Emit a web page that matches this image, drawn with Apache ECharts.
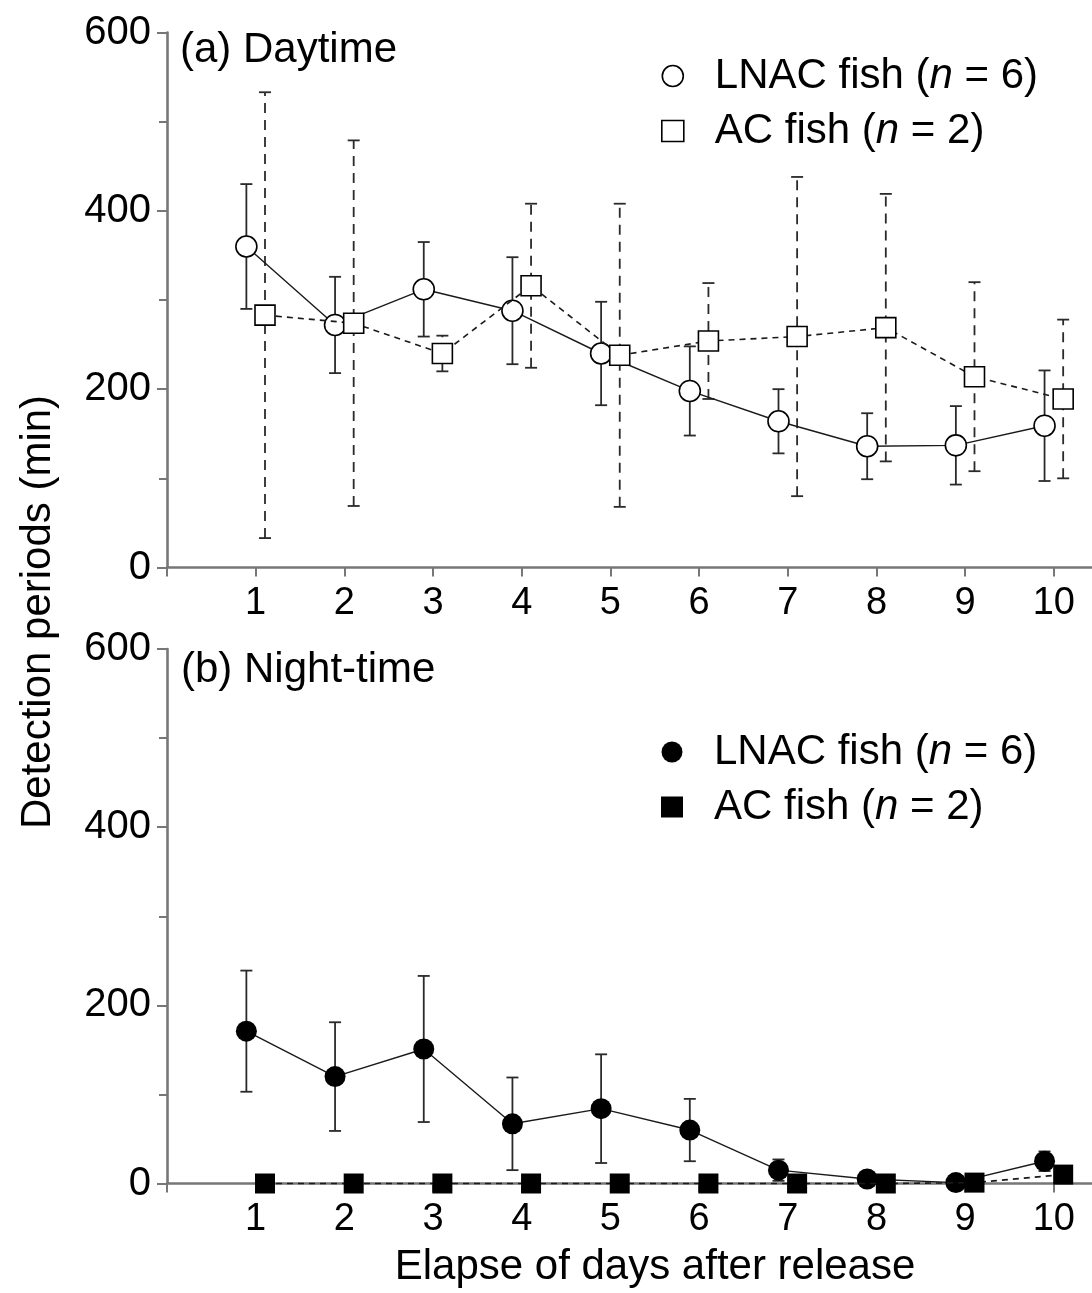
<!DOCTYPE html>
<html>
<head>
<meta charset="utf-8">
<title>Detection periods</title>
<script src="https://cdn.jsdelivr.net/npm/echarts@6/dist/echarts.min.js"></script>
<style>
  html, body { margin: 0; padding: 0; background: #fff; }
  #chart { width: 1092px; height: 1293px; }
</style>
</head>
<body>
<div id="chart"></div>
<script>
// days after release
const days = [1, 2, 3, 4, 5, 6, 7, 8, 9, 10]
const xTickValues = [0, 1, 2, 3, 4, 5, 6, 7, 8, 9, 10]
const xLabelValues = [1, 2, 3, 4, 5, 6, 7, 8, 9, 10]

// (a) daytime: mean and error (min)
const lnacDay = [360, 272, 312, 288, 240, 198, 164, 136, 137, 159]
const lnacDayErr = [70, 54, 53, 60, 58, 50, 36, 37, 44, 62]
const acDay = [283, 274, 240, 316, 238, 254, 259, 269, 214, 189]
const acDayErr = [250, 205, 20, 92, 170, 65, 179, 150, 106, 89]

// (b) night-time
const lnacNight = [171, 120, 151, 67, 84, 60, 15, 5, 1, 25]
const lnacNightErr = [68, 61, 82, 52, 61, 35, 12, 3, 1, 11]
const acNight = [0, 0, 0, 0, 0, 0, 0, 0, 1, 10]
const acNightErr = [0, 0, 0, 0, 0, 0, 0, 0, 0, 6]

const legendText = {
  'LNAC-a': ['LNAC fish (', 'n', ' = 6)'],
  'AC-a': ['AC fish (', 'n', ' = 2)'],
  'LNAC-b': ['LNAC fish (', 'n', ' = 6)'],
  'AC-b': ['AC fish (', 'n', ' = 2)']
}

const FONT = '"Liberation Sans", Arial, sans-serif'
const AXIS_COLOR = '#777'
const INK = '#1a1a1a'
const DODGE = 0.105 // circles a bit left of the day, squares a bit right

const chart = echarts.init(document.getElementById('chart'), null, { renderer: 'canvas' })

const xAxisOpt = (gridIndex) => ({
  type: 'value',
  gridIndex: gridIndex,
  min: 0,
  max: 10.43,
  axisLine: { show: true, onZero: false, lineStyle: { color: AXIS_COLOR, width: 2.6 } },
  axisTick: { show: true, customValues: xTickValues, length: 9, lineStyle: { color: AXIS_COLOR, width: 2 } },
  axisLabel: { customValues: xLabelValues, fontSize: 38, color: '#000', fontFamily: FONT, margin: 17 },
  splitLine: { show: false }
})

const yAxisOpt = (gridIndex) => ({
  type: 'value',
  gridIndex: gridIndex,
  min: 0,
  max: 600,
  interval: 200,
  axisLine: { show: true, onZero: false, lineStyle: { color: AXIS_COLOR, width: 2.6 } },
  axisTick: { show: true, length: 10, lineStyle: { color: AXIS_COLOR, width: 2 } },
  minorTick: { show: true, splitNumber: 2, length: 8, lineStyle: { color: AXIS_COLOR, width: 2 } },
  axisLabel: { fontSize: 40, color: '#000', fontFamily: FONT, margin: 16 },
  splitLine: { show: false },
  minorSplitLine: { show: false }
})

// vertical error bars with caps
const errorBars = (axisIndex, means, errs, shift, dashed) => ({
  type: 'custom',
  xAxisIndex: axisIndex,
  yAxisIndex: axisIndex,
  z: 1,
  silent: true,
  clip: false,
  encode: { x: 0, y: [1, 2] },
  data: days.map((d, i) => [d + shift, means[i] - errs[i], means[i] + errs[i]]),
  renderItem: (params, api) => {
    if (api.value(2) - api.value(1) <= 0) return null
    const x = api.value(0)
    const lo = api.coord([x, api.value(1)])
    const hi = api.coord([x, api.value(2)])
    const hw = 6
    const capStyle = { stroke: '#2a2a2a', lineWidth: 1.8 }
    return {
      type: 'group',
      children: [
        { type: 'line', shape: { x1: lo[0], y1: lo[1], x2: hi[0], y2: hi[1] },
          style: { stroke: '#2a2a2a', lineWidth: 1.8, lineDash: dashed ? [10, 7] : null } },
        { type: 'line', shape: { x1: hi[0] - hw, y1: hi[1], x2: hi[0] + hw, y2: hi[1] }, style: capStyle },
        { type: 'line', shape: { x1: lo[0] - hw, y1: lo[1], x2: lo[0] + hw, y2: lo[1] }, style: capStyle }
      ]
    }
  }
})

const lineSeries = (name, axisIndex, values, shift, symbol, filled, dashed) => ({
  name: name,
  type: 'line',
  xAxisIndex: axisIndex,
  yAxisIndex: axisIndex,
  z: dashed ? 3 : 2,
  clip: false,
  symbol: symbol,
  symbolSize: symbol === 'circle' ? 21 : 20,
  showAllSymbol: true,
  data: days.map((d, i) => [d + shift, values[i]]),
  lineStyle: { color: INK, width: dashed ? 1.6 : 1.4, type: dashed ? [6, 5] : 'solid' },
  itemStyle: { color: filled ? '#000' : '#fff', borderColor: '#000', borderWidth: filled ? 0 : 1.6 },
  emphasis: { disabled: true }
})

const legendOpt = (names, top, filled) => ({
  data: names.map((n, i) => ({
    name: n,
    icon: i === 0 ? 'circle' : 'rect',
    itemStyle: { color: filled ? '#000' : '#fff', borderColor: '#000', borderWidth: filled ? 0 : 1.6 }
  })),
  orient: 'vertical',
  left: 661,
  top: top,
  padding: 0,
  itemWidth: 22,
  itemHeight: 21,
  itemGap: 11,
  selectedMode: false,
  formatter: (name) => {
    const t = legendText[name]
    return '{t|' + t[0] + '}{i|' + t[1] + '}{t|' + t[2] + '}'
  },
  textStyle: {
    padding: [0, 0, 0, 26],
    lineHeight: 44,
    rich: {
      t: { fontSize: 42, color: '#000', fontFamily: FONT, lineHeight: 44 },
      i: { fontSize: 42, color: '#000', fontFamily: FONT, fontStyle: 'italic', lineHeight: 44 }
    }
  }
})

const textEl = (text, x, y, extra) => Object.assign({
  type: 'text',
  x: x,
  y: y,
  silent: true,
  style: { text: text, fontSize: 42, fontFamily: FONT, fill: '#000', align: 'left', verticalAlign: 'middle' }
}, extra || {})

const option = {
  animation: false,
  backgroundColor: '#fff',
  grid: [
    { left: 167, right: 0, top: 32.5, height: 535, outerBoundsMode: 'none' },
    { left: 167, right: 0, top: 649, height: 534.5, outerBoundsMode: 'none' }
  ],
  xAxis: [xAxisOpt(0), xAxisOpt(1)],
  yAxis: [yAxisOpt(0), yAxisOpt(1)],
  legend: [
    legendOpt(['LNAC-a', 'AC-a'], 54, false),
    legendOpt(['LNAC-b', 'AC-b'], 730, true)
  ],
  graphic: [
    textEl('(a) Daytime', 180, 50),
    textEl('(b) Night-time', 181, 670),
    textEl('Elapse of days after release', 655, 1267, {
      style: { text: 'Elapse of days after release', fontSize: 42, fontFamily: FONT, fill: '#000', align: 'center', verticalAlign: 'middle' }
    }),
    textEl('Detection periods (min)', 38, 612, {
      rotation: Math.PI / 2,
      style: { text: 'Detection periods (min)', fontSize: 42, fontFamily: FONT, fill: '#000', align: 'center', verticalAlign: 'middle' }
    })
  ],
  series: [
    errorBars(0, lnacDay, lnacDayErr, -DODGE, false),
    errorBars(0, acDay, acDayErr, DODGE, true),
    lineSeries('LNAC-a', 0, lnacDay, -DODGE, 'circle', false, false),
    lineSeries('AC-a', 0, acDay, DODGE, 'rect', false, true),
    errorBars(1, lnacNight, lnacNightErr, -DODGE, false),
    errorBars(1, acNight, acNightErr, DODGE, true),
    lineSeries('LNAC-b', 1, lnacNight, -DODGE, 'circle', true, false),
    lineSeries('AC-b', 1, acNight, DODGE, 'rect', true, true)
  ]
}

chart.setOption(option)
</script>
</body>
</html>
